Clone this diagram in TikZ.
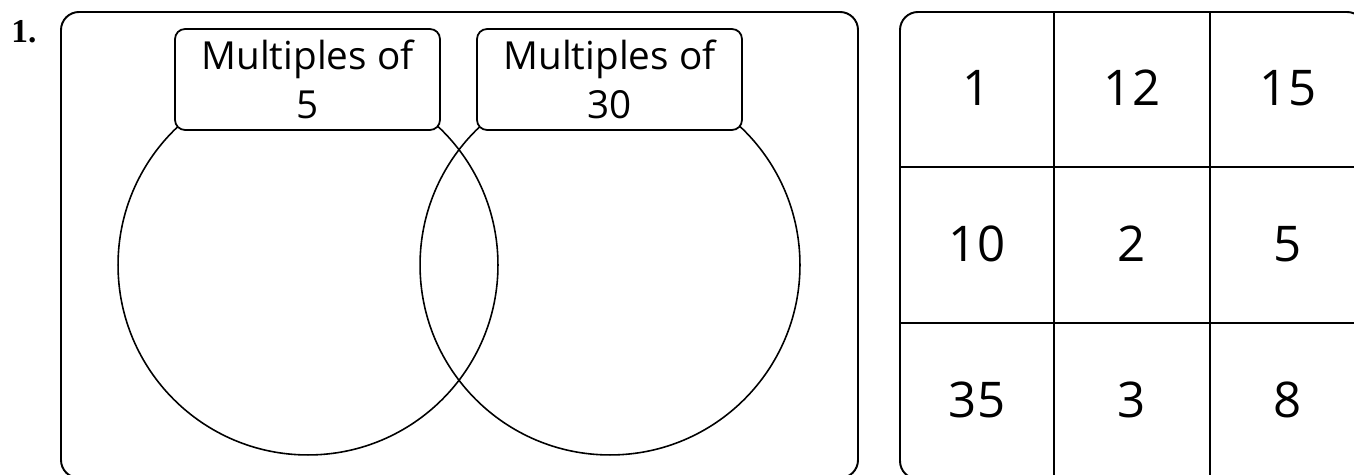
\documentclass[tikz,border=0pt]{standalone}
\usepackage{fontspec}
\setsansfont{Open Sans}
\setmainfont{Liberation Serif}
\usetikzlibrary{positioning}
\tikzset{
  font=\sffamily,
  frame/.style={
    draw,
    line width=1.1pt,
    rounded corners=0.36cm
  },
  set circle/.style={
    draw,
    circle,
    line width=0.9pt,
    minimum size=7.6cm,
    inner sep=0mm
  },
  set label/.style={
    draw,
    fill=white,
    line width=1pt,
    rounded corners=0.2cm,
    minimum width=5.3cm,
    minimum height=2.02cm,
    inner sep=0mm,
    align=center,
    font=\sffamily\fontsize{22}{28}\selectfont
  },
  card/.style={
    inner sep=0mm,
    font=\sffamily\fontsize{28}{32}\selectfont
  }
}
\begin{document}
\begin{tikzpicture}[x=0.02cm,y=-0.02cm]
\useasboundingbox (0,0) rectangle (1354,475);
\clip (0,0) rectangle (1354,475);
% number of the exercise
\node[font=\rmfamily\bfseries\fontsize{19}{22}\selectfont] (num) at (24,32) {1.};
% Venn diagram
\draw[frame] (61,12) rectangle (858,478);
\node[set circle] (five)   at (308,265) {};
\node[set circle] (thirty) at (610,265) {};
\node[set label] (lfive)   at (307.5,79.5) {Multiples of\\5};
\node[set label] (lthirty) at (609.5,79.5) {Multiples of\\30};
% cards to sort
\draw[frame] (900,12) rectangle (1365,479);
\draw[line width=1pt] (1054,12) -- (1054,479)
                      (1210,12) -- (1210,479)
                      (900,167) -- (1365,167)
                      (900,323) -- (1365,323);
\node[card] (c1)  at (977,88)   {1};
\node[card] (c12) at (1132,88)  {12};
\node[card] (c15) at (1288,88)  {15};
\node[card] (c10) at (977,244)  {10};
\node[card] (c2)  at (1132,244) {2};
\node[card] (c5)  at (1288,244) {5};
\node[card] (c35) at (977,400)  {35};
\node[card] (c3)  at (1132,400) {3};
\node[card] (c8)  at (1288,400) {8};
\end{tikzpicture}
\end{document}
